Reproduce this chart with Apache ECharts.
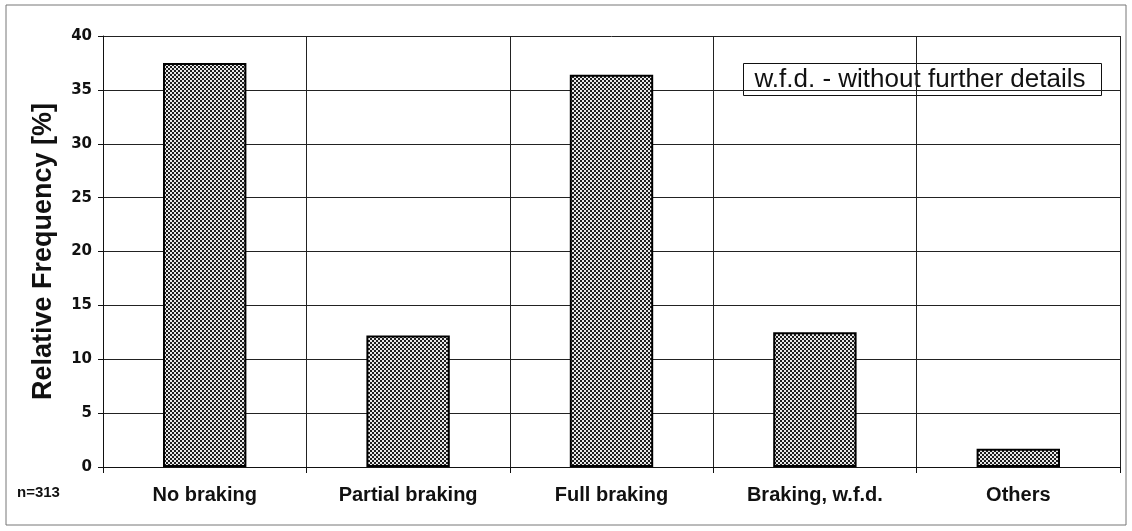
<!DOCTYPE html>
<html>
<head>
<meta charset="utf-8">
<script src="https://cdn.jsdelivr.net/npm/echarts@6/dist/echarts.min.js"></script>
<style>
  html, body { margin: 0; padding: 0; background: #fff; }
  #main { width: 1132px; height: 531px; }
</style>
</head>
<body>
<div id="main"></div>
<script>
var categories = ['No braking', 'Partial braking', 'Full braking', 'Braking, w.f.d.', 'Others'];
var frequency = [37.5, 12.2, 36.4, 12.5, 1.7];
var yTicks = [0, 5, 10, 15, 20, 25, 30, 35, 40];

// checker fill like the old print hatch
var patCanvas = document.createElement('canvas');
patCanvas.width = 4;
patCanvas.height = 4;
var pctx = patCanvas.getContext('2d');
pctx.fillStyle = '#e8e8e8';
pctx.fillRect(0, 0, 4, 4);
pctx.fillStyle = '#1e1e1e';
pctx.fillRect(0, 0, 2, 2);
pctx.fillRect(2, 2, 2, 2);

var chart = echarts.init(document.getElementById('main'));
var option = {
    backgroundColor: '#fff',
    animation: false,
    grid: {
        left: 103,
        right: 12,
        top: 36,
        bottom: 64
    },
    graphic: [
        {
            type: 'rect',
            shape: { x: 6, y: 5, width: 1120, height: 520 },
            style: { fill: 'none', stroke: '#777', lineWidth: 1 }
        },
        {
            type: 'text',
            left: 17,
            top: 485,
            style: {
                text: 'n=313',
                font: 'bold 15px "Liberation Sans", Arial, sans-serif',
                fill: '#111'
            }
        },
        {
            type: 'group',
            left: 743,
            top: 63,
            children: [
                {
                    type: 'rect',
                    shape: { x: 0, y: 0, width: 358, height: 32 },
                    style: { fill: '#fff', stroke: '#111', lineWidth: 1 }
                },
                {
                    type: 'text',
                    x: 11,
                    y: 3,
                    style: {
                        text: 'w.f.d. - without further details',
                        font: '26px "Liberation Sans", Arial, sans-serif',
                        fill: '#111'
                    }
                }
            ]
        }
    ],
    xAxis: {
        type: 'category',
        data: categories,
        boundaryGap: true,
        axisLine: { show: true, lineStyle: { color: '#111', width: 1 } },
        axisTick: { show: true, length: 6, lineStyle: { color: '#111' } },
        axisLabel: {
            color: '#111',
            fontSize: 20,
            fontWeight: 'bold',
            fontFamily: 'Liberation Sans',
            margin: 18
        },
        splitLine: { show: true, lineStyle: { color: '#222', width: 1 } }
    },
    yAxis: {
        type: 'value',
        min: yTicks[0],
        max: yTicks[yTicks.length - 1],
        interval: 5,
        name: 'Relative Frequency [%]',
        nameLocation: 'middle',
        nameGap: 46,
        nameTextStyle: {
            color: '#111',
            fontSize: 27,
            fontWeight: 'bold',
            fontFamily: 'Liberation Sans'
        },
        axisLine: { show: true, lineStyle: { color: '#111', width: 1 } },
        axisTick: { show: true, length: 5, lineStyle: { color: '#111' } },
        axisLabel: {
            color: '#111',
            fontSize: 15,
            fontWeight: 'bold',
            fontFamily: 'DejaVu Sans',
            margin: 11
        },
        splitLine: { show: true, lineStyle: { color: '#222', width: 1 } }
    },
    series: [{
        type: 'bar',
        data: frequency,
        barWidth: '41%',
        itemStyle: {
            color: { image: patCanvas, repeat: 'repeat' },
            borderColor: '#000',
            borderWidth: 2
        }
    }]
};
chart.setOption(option);
</script>
</body>
</html>
